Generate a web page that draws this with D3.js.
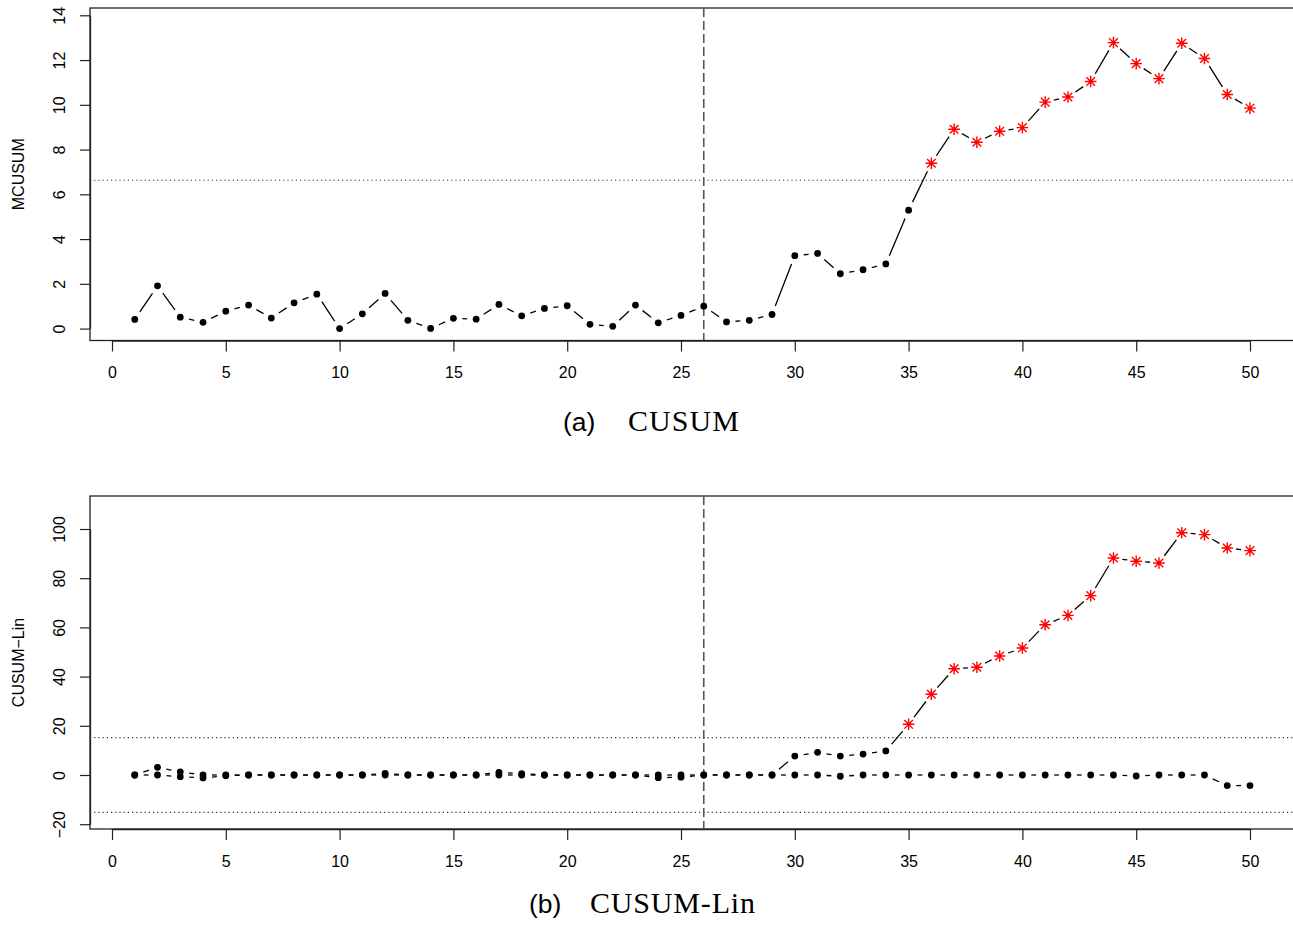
<!DOCTYPE html>
<html>
<head>
<meta charset="utf-8">
<script src="https://cdn.jsdelivr.net/npm/d3@7"></script>
<style>
  body { margin: 0; background: #fff; }
  svg text { font-family: "Liberation Sans", Arial, sans-serif; }
</style>
</head>
<body>
<div id="chart"></div>
<script>
const WIDTH = 1293;
const HEIGHT = 926;

// time index 1..50
const timeIdx = d3.range(1, 51);
const xTicks = [0, 5, 10, 15, 20, 25, 30, 35, 40, 45, 50];
const changePoint = 26;

// (a) MCUSUM statistic
const mcusum = [0.41, 1.91, 0.51, 0.28, 0.78, 1.05, 0.47, 1.15, 1.54, 0.0,
  0.66, 1.57, 0.37, 0.01, 0.46, 0.42, 1.08, 0.57, 0.9, 1.02,
  0.19, 0.1, 1.05, 0.26, 0.59, 1.0, 0.3, 0.37, 0.63, 3.26,
  3.36, 2.45, 2.63, 2.89, 5.29, 7.39, 8.91, 8.33, 8.82, 8.98,
  10.12, 10.35, 11.04, 12.78, 11.84, 11.17, 12.75, 12.07, 10.46, 9.85];
const mcusumLimit = 6.63;
const mcusumTicks = [0, 2, 4, 6, 8, 10, 12, 14];

// (b) CUSUM-Lin, upper and lower statistic
const linUpper = [0, 3.1, 1.3, 0, 0, 0, 0, 0, 0, 0,
  0, 0.6, 0, 0, 0, 0, 1.1, 0.5, 0, 0,
  0, 0, 0, 0, 0, 0, 0, 0, 0, 7.7,
  9.2, 7.7, 8.5, 9.8, 20.6, 32.8, 43.2, 43.8, 48.4, 51.6,
  61.1, 64.9, 72.9, 88.2, 86.9, 86.2, 98.5, 97.7, 92.3, 91.2];
const linLower = [0, 0, -0.7, -1.2, -0.3, 0, 0, 0, 0, 0,
  0, 0, 0, 0, 0, 0, 0, 0, 0, 0,
  0, 0, 0, -1.1, -0.9, 0, 0, 0, 0, 0,
  0, -0.5, 0, 0, 0, 0, 0, 0, 0, 0,
  0, 0, 0, 0, -0.4, 0, 0, 0, -4.3, -4.3];
const linLimit = 15.2;
const linTicks = [-20, 0, 20, 40, 60, 80, 100];

let svg = d3
  .select("#chart")
  .append("svg")
  .attr("width", WIDTH)
  .attr("height", HEIGHT);

//shared x scale (both panels)
const x = d3.scaleLinear().domain([0, 50]).range([112, 1250]);

/**
 * draws one panel: box, axes, limits, change point and the series
 */
function drawPanel(opt) {
  const g = svg.append("g");
  const y = d3.scaleLinear().domain(opt.yDomain).range(opt.yRange);
  const boxTop = opt.box[0], boxBottom = opt.box[1];

  //plot box (right edge falls outside the picture)
  g.append("rect")
    .attr("x", 90).attr("y", boxTop)
    .attr("width", 1205).attr("height", boxBottom - boxTop)
    .attr("fill", "none").attr("stroke", "#222").attr("stroke-width", 1.3);

  //y axis
  const yAxis = g.append("g")
    .attr("transform", "translate(90,0)")
    .call(d3.axisLeft(y).tickValues(opt.yTicks).tickSize(10).tickSizeOuter(0)
      .tickFormat(d => (d < 0 ? "\u2212" + Math.abs(d) : d)));
  yAxis.select(".domain").attr("stroke", "#222").attr("stroke-width", 1.3);
  yAxis.selectAll(".tick line").attr("stroke", "#222").attr("stroke-width", 1.2);
  yAxis.selectAll(".tick text")
    .attr("x", 0).attr("y", 0).attr("dy", 0)
    .attr("text-anchor", "middle")
    .attr("transform", "translate(-25,0) rotate(-90)")
    .style("font-size", "16px").attr("fill", "#000");

  //x axis
  const xAxis = g.append("g")
    .attr("transform", `translate(0,${boxBottom})`)
    .call(d3.axisBottom(x).tickValues(xTicks).tickSize(11).tickSizeOuter(0));
  xAxis.select(".domain").attr("stroke", "#222").attr("stroke-width", 1.3);
  xAxis.selectAll(".tick line").attr("stroke", "#222").attr("stroke-width", 1.2);
  xAxis.selectAll(".tick text")
    .attr("y", 37.5).attr("dy", 0)
    .style("font-size", "16px").attr("fill", "#000");

  //y label
  g.append("text")
    .attr("transform", `translate(23.5,${(boxTop + boxBottom) / 2}) rotate(-90)`)
    .attr("text-anchor", "middle")
    .style("font-size", "16px")
    .text(opt.ylab);

  //control limits (dotted)
  opt.limits.forEach(l => {
    g.append("line")
      .attr("x1", 90).attr("x2", 1295)
      .attr("y1", y(l)).attr("y2", y(l))
      .attr("stroke", "#333").attr("stroke-width", 1.1)
      .attr("stroke-dasharray", "1.2,3");
  });

  //change point (dashed)
  g.append("line")
    .attr("x1", x(changePoint)).attr("x2", x(changePoint))
    .attr("y1", boxTop).attr("y2", boxBottom)
    .attr("stroke", "#555").attr("stroke-width", 1.6)
    .attr("stroke-dasharray", "9,4");

  //series drawn like type = "b"
  opt.series.forEach(s => {
    const pts = timeIdx.map((t, i) => ({ px: x(t), py: y(s.values[i]), alarm: s.flag(s.values[i]) }));
    const GAP = 9;
    for (let i = 0; i < pts.length - 1; i++) {
      const a = pts[i], b = pts[i + 1];
      const dx = b.px - a.px, dy = b.py - a.py;
      const len = Math.hypot(dx, dy);
      if (len <= 2 * GAP) continue;
      const ux = dx / len, uy = dy / len;
      g.append("line")
        .attr("x1", a.px + ux * GAP).attr("y1", a.py + uy * GAP)
        .attr("x2", b.px - ux * GAP).attr("y2", b.py - uy * GAP)
        .attr("stroke", "#000").attr("stroke-width", 1.3);
    }
    //normal points
    g.selectAll(null)
      .data(pts.filter(p => !p.alarm))
      .enter()
      .append("circle")
      .attr("cx", d => d.px).attr("cy", d => d.py)
      .attr("r", 3.4).attr("fill", "#000");
    //alarm points: red asterisk
    const stars = g.selectAll(null)
      .data(pts.filter(p => p.alarm))
      .enter()
      .append("path")
      .attr("transform", d => `translate(${d.px},${d.py})`)
      .attr("d", "M-5.8,0H5.8M0,-5.8V5.8M-4.3,-4.3L4.3,4.3M-4.3,4.3L4.3,-4.3")
      .attr("stroke", "#ff0000").attr("stroke-width", 1.4).attr("fill", "none");
  });

  //caption below the panel
  const cap = g.append("text")
    .attr("y", opt.capY);
  cap.append("tspan")
    .attr("x", opt.capX)
    .style("font-size", "26.5px")
    .text(opt.capTag);
  cap.append("tspan")
    .attr("x", opt.capX2)
    .style("font-family", "'Liberation Serif', 'Times New Roman', serif")
    .style("font-size", "30px")
    .attr("textLength", opt.capLen)
    .text(opt.capText);
}

drawPanel({
  yDomain: [0, 14], yRange: [328.6, 15.3], box: [8, 340.5],
  yTicks: mcusumTicks, ylab: "MCUSUM", limits: [mcusumLimit],
  series: [{ values: mcusum, flag: v => v > mcusumLimit }],
  capX: 563, capX2: 628, capY: 431, capTag: "(a)", capText: "CUSUM", capLen: 111
});

drawPanel({
  yDomain: [-20, 100], yRange: [824.2, 529], box: [496, 829],
  yTicks: linTicks, ylab: "CUSUM\u2212Lin", limits: [linLimit, -linLimit],
  series: [
    { values: linLower, flag: v => v < -linLimit },
    { values: linUpper, flag: v => v > linLimit }
  ],
  capX: 529, capX2: 590, capY: 913, capTag: "(b)", capText: "CUSUM-Lin", capLen: 165
});
</script>
</body>
</html>
